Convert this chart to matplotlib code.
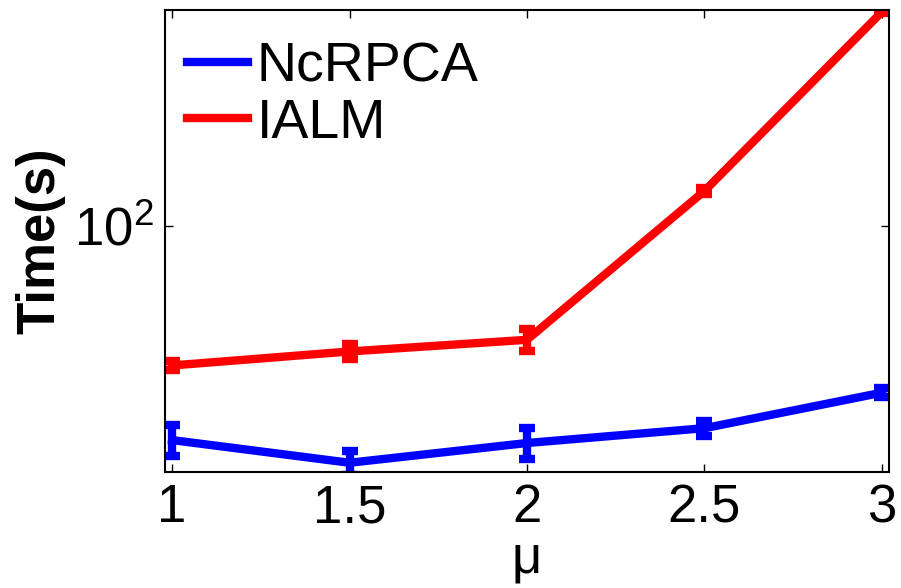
import numpy as np
import matplotlib
matplotlib.use("Agg")
import matplotlib.pyplot as plt
from matplotlib.ticker import FixedLocator, NullLocator
from matplotlib.lines import Line2D

plt.rcParams['font.family'] = ['Liberation Sans', 'DejaVu Sans']
plt.rcParams['mathtext.fontset'] = 'custom'
plt.rcParams['mathtext.rm'] = 'Liberation Sans'

mu = [1, 1.5, 2, 2.5, 3]
ncrpca = [37.3, 33.6, 36.8, 39.4, 46.4]
ncrpca_err = [2.6, 1.8, 2.6, 1.4, 1.0]
ialm = [52.6, 56.1, 59.2, 117.5, 268.0]
ialm_err = [1.2, 2.0, 3.0, 1.5, 1.5]

fig = plt.figure(figsize=(9.01, 5.88), dpi=100)
ax = fig.add_axes([165/901, 1-472/588, (889-165)/901, (472-10)/588])

ax.errorbar(mu, ncrpca, yerr=ncrpca_err, color='#0000ff', lw=6,
            elinewidth=6, capsize=6, capthick=6)
ax.errorbar(mu, ialm, yerr=ialm_err, color='#ff0000', lw=6,
            elinewidth=6, capsize=6, capthick=6)

ax.set_yscale('log')
ax.set_xlim(0.98, 3.02)
ax.set_ylim(32.2, 270.4)
ax.set_xticks([1, 1.5, 2, 2.5, 3])
ax.set_xticklabels(['1', '1.5', '2', '2.5', '3'])
ax.yaxis.set_major_locator(FixedLocator([100]))
ax.yaxis.set_minor_locator(NullLocator())
ax.set_yticklabels([r'$\mathregular{10^2}$'])
ax.tick_params(direction='in', length=6, width=1, labelsize=38,
               top=True, right=True, pad=8)
for s in ax.spines.values():
    s.set_linewidth(1.5)

ax.set_xlabel('μ', fontsize=38, labelpad=0)
ax.set_ylabel('Time(s)', fontsize=38, fontweight='bold', labelpad=6)

handles = [Line2D([], [], color='#0000ff', lw=6),
           Line2D([], [], color='#ff0000', lw=6)]
ax.legend(handles, ['NcRPCA', 'IALM'], loc='upper left', frameon=False,
          fontsize=40, handlelength=1.1, handletextpad=0.15,
          labelspacing=0.08, borderaxespad=0.2, borderpad=0.2,
          bbox_to_anchor=(0.0, 0.98))

fig.savefig('out.png', dpi=100)
